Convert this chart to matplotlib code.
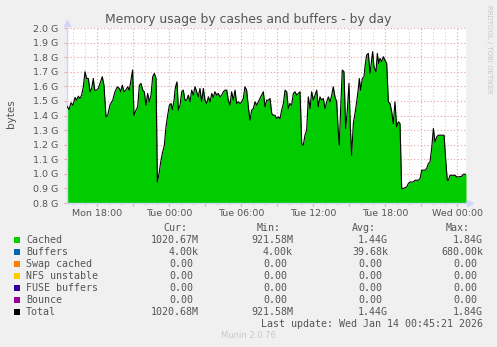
import numpy as np
import matplotlib
matplotlib.use('Agg')
import matplotlib.pyplot as plt
from matplotlib.ticker import MultipleLocator, FuncFormatter
from matplotlib.patches import Rectangle

###################################Data########################################

# time in hours since Mon 00:00, memory in G
hours = [15.50, 15.67, 15.83, 16.00, 16.17, 16.31, 16.44, 16.58, 16.72, 16.86,
         17.00, 17.14, 17.28, 17.42, 17.56, 17.69, 17.81, 17.97, 18.11, 18.25,
         18.44, 18.58, 18.75, 18.89, 19.08, 19.31, 19.50, 19.69, 19.86, 19.97,
         20.11, 20.25, 20.39, 20.56, 20.69, 20.83, 20.97, 21.08, 21.25, 21.39,
         21.53, 21.67, 21.81, 21.94, 22.08, 22.22, 22.36, 22.50, 22.64, 22.78,
         22.92, 23.03, 23.17, 23.31, 23.44, 23.61, 23.75, 23.89, 24.03, 24.17,
         24.28, 24.42, 24.50, 24.58, 24.67, 24.78, 24.92, 25.06, 25.19, 25.33,
         25.47, 25.61, 25.75, 25.89, 26.03, 26.17, 26.31, 26.44, 26.58, 26.72,
         26.86, 27.00, 27.14, 27.28, 27.42, 27.56, 27.69, 27.83, 27.97, 28.11,
         28.25, 28.39, 28.53, 28.67, 28.81, 28.94, 29.08, 29.22, 29.36, 29.50,
         29.64, 29.78, 29.92, 30.06, 30.19, 30.33, 30.47, 30.61, 30.75, 30.89,
         31.03, 31.17, 31.31, 31.44, 31.58, 31.72, 31.86, 32.00, 32.14, 32.28,
         32.42, 32.56, 32.69, 32.83, 32.97, 33.11, 33.25, 33.39, 33.53, 33.67,
         33.81, 33.94, 34.08, 34.22, 34.36, 34.50, 34.64, 34.78, 34.92, 35.06,
         35.19, 35.33, 35.47, 35.61, 35.75, 35.89, 36.03, 36.17, 36.31, 36.44,
         36.58, 36.72, 36.86, 37.00, 37.14, 37.28, 37.42, 37.56, 37.69, 37.83,
         37.97, 38.11, 38.19, 38.31, 38.44, 38.58, 38.72, 38.86, 39.00, 39.11,
         39.22, 39.36, 39.50, 39.64, 39.78, 39.86, 39.97, 40.11, 40.25, 40.33,
         40.47, 40.61, 40.75, 40.89, 40.97, 41.08, 41.25, 41.36, 41.47, 41.58,
         41.72, 41.86, 42.00, 42.14, 42.28, 42.42, 42.56, 42.69, 42.83, 42.97,
         43.11, 43.25, 43.39, 43.53, 43.81, 43.94, 44.08, 44.36, 44.50, 44.78,
         44.92, 45.06, 45.33, 45.47, 45.61, 45.75, 45.89, 46.03, 46.17, 46.31,
         46.44, 46.72, 46.92, 47.06, 47.19, 47.28, 47.42, 47.69, 47.83, 47.97,
         48.11, 48.39, 48.53, 48.75]

cached = [1.464, 1.441, 1.487, 1.471, 1.524, 1.505, 1.533, 1.517, 1.540, 1.597,
          1.700, 1.654, 1.654, 1.563, 1.586, 1.654, 1.574, 1.574, 1.586, 1.620,
          1.666, 1.608, 1.391, 1.402, 1.471, 1.505, 1.563, 1.597, 1.586, 1.563,
          1.608, 1.563, 1.574, 1.597, 1.574, 1.643, 1.712, 1.402, 1.437, 1.460,
          1.608, 1.620, 1.574, 1.563, 1.471, 1.551, 1.494, 1.540, 1.666, 1.689,
          1.654, 0.944, 1.002, 1.082, 1.139, 1.196, 1.322, 1.402, 1.471, 1.482,
          1.441, 1.505, 1.574, 1.608, 1.631, 1.437, 1.471, 1.563, 1.574, 1.505,
          1.505, 1.540, 1.494, 1.574, 1.540, 1.597, 1.563, 1.528, 1.586, 1.494,
          1.586, 1.505, 1.482, 1.528, 1.494, 1.551, 1.524, 1.563, 1.540, 1.551,
          1.528, 1.540, 1.563, 1.574, 1.574, 1.505, 1.471, 1.563, 1.505, 1.574,
          1.482, 1.494, 1.482, 1.494, 1.517, 1.597, 1.574, 1.460, 1.368, 1.437,
          1.448, 1.494, 1.471, 1.494, 1.517, 1.540, 1.563, 1.460, 1.505, 1.505,
          1.517, 1.414, 1.402, 1.402, 1.379, 1.391, 1.379, 1.437, 1.482, 1.574,
          1.563, 1.448, 1.482, 1.471, 1.551, 1.563, 1.540, 1.551, 1.563, 1.208,
          1.196, 1.265, 1.299, 1.528, 1.448, 1.563, 1.505, 1.540, 1.574, 1.460,
          1.528, 1.505, 1.517, 1.448, 1.494, 1.528, 1.494, 1.540, 1.597, 1.528,
          1.494, 1.288, 1.196, 1.460, 1.712, 1.700, 1.311, 1.437, 1.620, 1.322,
          1.128, 1.345, 1.414, 1.494, 1.586, 1.654, 1.574, 1.654, 1.666, 1.734,
          1.815, 1.826, 1.689, 1.780, 1.838, 1.734, 1.700, 1.826, 1.757, 1.792,
          1.769, 1.803, 1.780, 1.757, 1.494, 1.482, 1.425, 1.345, 1.494, 1.322,
          1.357, 1.345, 0.900, 0.900, 0.910, 0.933, 0.944, 0.944, 0.956, 0.956,
          0.967, 1.025, 1.025, 1.036, 1.070, 1.082, 1.173, 1.311, 1.219, 1.253,
          1.265, 1.265, 1.265, 1.093, 0.956, 0.956, 0.990, 0.990, 0.990, 0.979,
          0.979, 0.983, 0.997, 0.997]

x_ticks = [18, 24, 30, 36, 42, 48]
x_labels = ['Mon 18:00', 'Tue 00:00', 'Tue 06:00', 'Tue 12:00', 'Tue 18:00', 'Wed 00:00']

legend_names = ['Cached', 'Buffers', 'Swap cached', 'NFS unstable', 'FUSE buffers', 'Bounce', 'Total']
legend_colors = ['#00CC00', '#0066B3', '#FF8000', '#FFCC00', '#330099', '#990099', '#000000']
col_cur = ['1020.67M', '4.00k', '0.00', '0.00', '0.00', '0.00', '1020.68M']
col_min = ['921.58M', '4.00k', '0.00', '0.00', '0.00', '0.00', '921.58M']
col_avg = ['1.44G', '39.68k', '0.00', '0.00', '0.00', '0.00', '1.44G']
col_max = ['1.84G', '680.00k', '0.00', '0.00', '0.00', '0.00', '1.84G']

###################################Plotting####################################

W, H = 497, 347
fx = lambda x: x / W
fy = lambda y: 1 - y / H

font_col = '#555555'
axis_col = '#CFD6F8'

fig = plt.figure(figsize=(W / 100, H / 100), dpi=100, facecolor='#F0F0F0')
ax = fig.add_axes([fx(67), fy(203), 399 / W, 175 / H])
ax.set_facecolor('white')

ax.fill_between(hours, 0, cached, color='#00CC00', linewidth=0, zorder=2)
ax.plot(hours, cached, color='black', linewidth=0.8, zorder=3)

ax.set_xlim(15.5, 48.75)
ax.set_ylim(0.8, 2.0)

# grid
ax.xaxis.set_major_locator(MultipleLocator(3))
ax.xaxis.set_minor_locator(MultipleLocator(1))
ax.yaxis.set_major_locator(MultipleLocator(0.1))
lab = dict(zip(x_ticks, x_labels))
ax.xaxis.set_major_formatter(FuncFormatter(lambda v, p: lab.get(int(round(v)), '')))
ax.yaxis.set_major_formatter(FuncFormatter(lambda v, p: '%.1f G' % v))
ax.grid(which='minor', axis='x', color='#D0D0D0', linestyle=(0, (1, 2)), linewidth=0.8, zorder=1)
ax.grid(which='major', axis='both', color='#F2A0A0', linestyle=(0, (1, 2)), linewidth=0.8, zorder=1)
ax.set_axisbelow(True)

ax.tick_params(which='major', length=2, width=0.8, color='#F2A0A0', labelsize=6.8,
               labelcolor=font_col, direction='out')
ax.tick_params(axis='x', which='major', pad=2.5)
ax.tick_params(axis='y', which='major', pad=4)
ax.tick_params(which='minor', length=1.5, width=0.6, color='#C8C8C8')

for s in ['top', 'right']:
    ax.spines[s].set_visible(False)
for s in ['left', 'bottom']:
    ax.spines[s].set_color(axis_col)
    ax.spines[s].set_linewidth(1.0)

# axis arrows
ax.plot([1.01], [0], marker='>', color=axis_col, markersize=4, transform=ax.transAxes, clip_on=False)
ax.plot([0], [1.03], marker='^', color=axis_col, markersize=4, transform=ax.transAxes, clip_on=False)

fig.text(fx(248), fy(19), 'Memory usage by cashes and buffers - by day', ha='center', va='center',
         fontsize=8.9, color=font_col)
fig.text(fx(11), fy(114), 'bytes', rotation=90, ha='center', va='center', fontsize=7.5, color=font_col)
fig.text(fx(489), fy(5), 'RRDTOOL / TOBI OETIKER', rotation=270, ha='center', va='top',
         fontsize=5, color='#C8C8C8')

# legend table
mono = 'DejaVu Sans Mono'
fs = 7.2
header_y = 228
for name, xc in zip(['Cur:', 'Min:', 'Avg:', 'Max:'], [175, 269, 364, 458]):
    fig.text(fx(xc), fy(header_y), name, ha='center', va='center', family=mono, fontsize=fs, color=font_col)

cols = [(col_cur, 199), (col_min, 293), (col_avg, 388), (col_max, 483)]
for i, name in enumerate(legend_names):
    y = 240 + 12 * i
    fig.patches.append(Rectangle((fx(14), fy(y + 3)), 6 / W, 6 / H, transform=fig.transFigure,
                                 facecolor=legend_colors[i], edgecolor='none'))
    fig.text(fx(26), fy(y), name, ha='left', va='center', family=mono, fontsize=fs, color=font_col)
    for vals, xr in cols:
        v = vals[i]
        if v[-1].isdigit():
            xr -= 6
        fig.text(fx(xr), fy(y), v, ha='right', va='center', family=mono, fontsize=fs, color=font_col)

fig.text(fx(483), fy(324), 'Last update: Wed Jan 14 00:45:21 2026', ha='right', va='center',
         family=mono, fontsize=fs, color=font_col)
fig.text(fx(248), fy(336), 'Munin 2.0.76', ha='center', va='center', fontsize=6, color='#C8C8C8')

fig.savefig('out.png', dpi=100, facecolor=fig.get_facecolor())
